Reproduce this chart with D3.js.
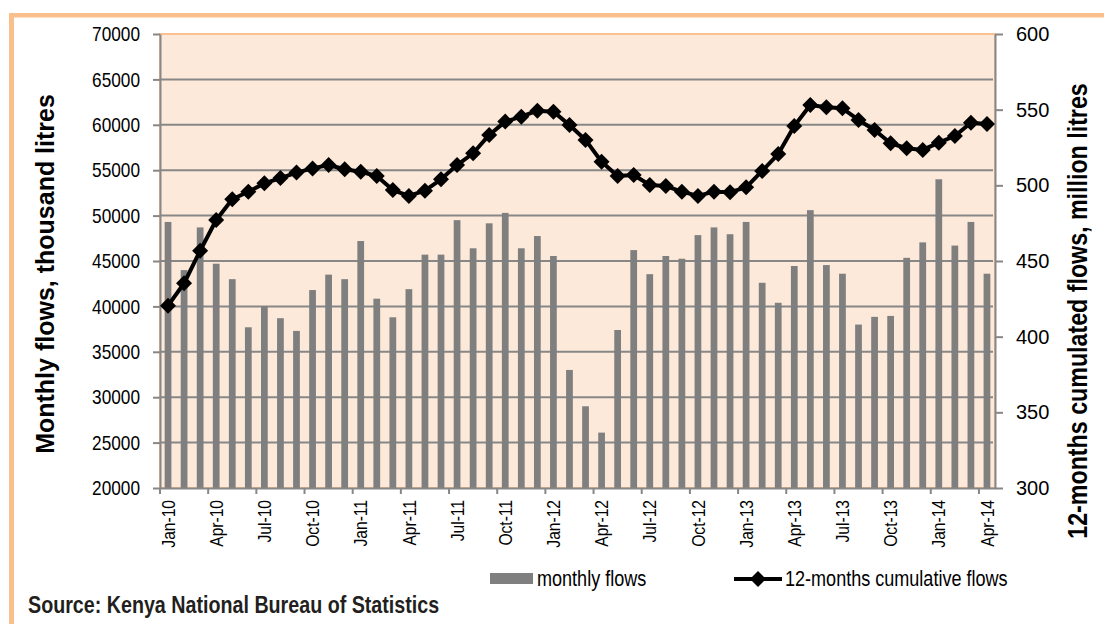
<!DOCTYPE html>
<html>
<head>
<meta charset="utf-8">
<script src="https://cdn.jsdelivr.net/npm/d3@7"></script>
<style>
  body { margin: 0; background: #fff; }
  svg { display: block; font-family: "Liberation Sans", Arial, sans-serif; }
  .axis path, .axis line { stroke: #878787; stroke-width: 2; }
  .grid line { stroke: #878787; stroke-width: 2; }
</style>
</head>
<body>
<div id="chart"></div>
<script>
let months = [
  'Jan-10','Feb-10','Mar-10','Apr-10','May-10','Jun-10','Jul-10','Aug-10','Sep-10','Oct-10','Nov-10','Dec-10',
  'Jan-11','Feb-11','Mar-11','Apr-11','May-11','Jun-11','Jul-11','Aug-11','Sep-11','Oct-11','Nov-11','Dec-11',
  'Jan-12','Feb-12','Mar-12','Apr-12','May-12','Jun-12','Jul-12','Aug-12','Sep-12','Oct-12','Nov-12','Dec-12',
  'Jan-13','Feb-13','Mar-13','Apr-13','May-13','Jun-13','Jul-13','Aug-13','Sep-13','Oct-13','Nov-13','Dec-13',
  'Jan-14','Feb-14','Mar-14','Apr-14'
];

// monthly flows, thousand litres
let monthlyFlows = [
  49300, 44000, 48700, 44700, 43000, 37700, 40000, 38700, 37300, 41800, 43500, 43000,
  47200, 40850, 38800, 41900, 45700, 45700, 49500, 46400, 49150, 50300, 46400, 47750,
  45550, 33000, 29000, 26100, 37400, 46200, 43550, 45550, 45250, 47850, 48700, 47950,
  49300, 42600, 40400, 44450, 50600, 44550, 43600, 38000, 38850, 38950, 45350, 47050,
  54000, 46700, 49300, 43600
];

// 12-months cumulative flows, million litres
let cumulativeFlows = [
  420.5, 435.3, 456.8, 477.1, 490.8, 495.8, 501.3, 504.8, 508.4, 511.2, 513.4, 510.6,
  509.0, 506.2, 496.9, 493.0, 496.5, 504.0, 513.4, 521.2, 533.3, 542.1, 545.4, 549.3,
  548.7, 539.9, 530.0, 515.6, 506.2, 506.8, 500.2, 499.5, 495.8, 493.0, 495.8, 495.5,
  498.7, 509.5, 520.7, 539.2, 553.1, 551.6, 550.9, 543.2, 536.6, 527.8, 524.5, 523.4,
  528.2, 532.6, 541.4, 540.5
];

let leftTicks = [20000, 25000, 30000, 35000, 40000, 45000, 50000, 55000, 60000, 65000, 70000];
let rightTicks = [300, 350, 400, 450, 500, 550, 600];
let tickMonths = ['Jan-10','Apr-10','Jul-10','Oct-10','Jan-11','Apr-11','Jul-11','Oct-11','Jan-12',
  'Apr-12','Jul-12','Oct-12','Jan-13','Apr-13','Jul-13','Oct-13','Jan-14','Apr-14'];

let width = 1104, height = 624;
let plot = {left: 160, right: 995, top: 34, bottom: 488};

// no narrow font installed, so squeeze regular glyphs instead
function condense(sel, k) {
  sel.each(function() {
    let len = this.getComputedTextLength();
    d3.select(this)
      .attr('textLength', len * k)
      .attr('lengthAdjust', 'spacingAndGlyphs');
  });
}

let svg = d3.select('#chart').append('svg')
  .attr('width', width)
  .attr('height', height);

// outer orange frame (top and left only)
svg.append('rect').attr('x', 9).attr('y', 13).attr('width', width - 9).attr('height', 4.5).attr('fill', '#FBBF8D');
svg.append('rect').attr('x', 9).attr('y', 13).attr('width', 5).attr('height', height - 13).attr('fill', '#FBBF8D');

// scales
let x = d3.scaleBand()
  .domain(months)
  .range([plot.left, plot.right])
  .paddingInner(0.58)
  .paddingOuter(0.29);
let step = x.step();
let cx = m => x(m) + x.bandwidth() / 2;

let yLeft = d3.scaleLinear().domain([20000, 70000]).range([plot.bottom, plot.top]);
let yRight = d3.scaleLinear().domain([300, 600]).range([plot.bottom, plot.top]);

// plot area background
svg.append('rect')
  .attr('x', plot.left).attr('y', plot.top)
  .attr('width', plot.right - plot.left).attr('height', plot.bottom - plot.top)
  .attr('fill', '#FDE9D9')
  .attr('stroke', '#F9C18F')
  .attr('stroke-width', 2);

// horizontal grid
svg.append('g')
  .attr('class', 'grid')
  .selectAll('line')
  .data(leftTicks.filter(d => d > 20000 && d < 70000))
  .enter().append('line')
  .attr('x1', plot.left).attr('x2', plot.right - 2)
  .attr('y1', d => yLeft(d)).attr('y2', d => yLeft(d));

// bars
svg.append('g')
  .selectAll('rect')
  .data(monthlyFlows)
  .enter().append('rect')
  .attr('x', (d, i) => x(months[i]))
  .attr('width', x.bandwidth())
  .attr('y', d => yLeft(d))
  .attr('height', d => yLeft(20000) - yLeft(d))
  .attr('fill', '#7F7F7F');

// left axis
let leftAxis = svg.append('g')
  .attr('class', 'axis')
  .attr('transform', 'translate(' + plot.left + ',0)')
  .call(d3.axisLeft(yLeft).tickValues(leftTicks).tickSize(7).tickSizeOuter(0).tickPadding(13).tickFormat(d3.format('d')));
leftAxis.attr('font-family', null);
leftAxis.selectAll('text').attr('font-size', 21).attr('fill', '#000');
condense(leftAxis.selectAll('text'), 0.82);

// right axis
let rightAxis = svg.append('g')
  .attr('class', 'axis')
  .attr('transform', 'translate(' + plot.right + ',0)')
  .call(d3.axisRight(yRight).tickValues(rightTicks).tickSize(8).tickSizeOuter(0).tickPadding(13));
rightAxis.attr('font-family', null);
rightAxis.selectAll('text').attr('font-size', 20).attr('fill', '#000');

// bottom axis: labels at month centres, ticks at month boundaries
let bottomAxis = svg.append('g')
  .attr('class', 'axis')
  .attr('transform', 'translate(0,' + plot.bottom + ')')
  .call(d3.axisBottom(x).tickValues(tickMonths).tickSize(0).tickSizeOuter(0));
bottomAxis.attr('font-family', null);
bottomAxis.selectAll('text')
  .attr('font-size', 19)
  .attr('fill', '#000')
  .attr('transform', 'rotate(-90)')
  .attr('x', -12)
  .attr('y', 0)
  .attr('dy', '0.35em')
  .style('text-anchor', 'end');
condense(bottomAxis.selectAll('text'), 0.82);
bottomAxis.selectAll('.boundary')
  .data(tickMonths)
  .enter().append('line')
  .attr('class', 'boundary')
  .attr('x1', d => cx(d) - step / 2).attr('x2', d => cx(d) - step / 2)
  .attr('y1', 0).attr('y2', 6);

// cumulative line
let line = d3.line()
  .x((d, i) => cx(months[i]))
  .y(d => yRight(d));
svg.append('path')
  .datum(cumulativeFlows)
  .attr('d', line)
  .attr('fill', 'none')
  .attr('stroke', '#000')
  .attr('stroke-width', 4)
  .attr('stroke-linejoin', 'round');

let diamond = d3.symbol().type(d3.symbolSquare).size(128);
svg.append('g')
  .selectAll('path')
  .data(cumulativeFlows)
  .enter().append('path')
  .attr('d', diamond)
  .attr('fill', '#000')
  .attr('transform', (d, i) => 'translate(' + cx(months[i]) + ',' + yRight(d) + ') rotate(45)');

// axis titles
svg.append('text')
  .attr('transform', 'translate(54,274) rotate(-90)')
  .attr('text-anchor', 'middle')
  .attr('font-size', 25)
  .attr('font-weight', 'bold')
  .text('Monthly flows, thousand litres');

let rightTitle = svg.append('text')
  .attr('transform', 'translate(1087,311) rotate(-90)')
  .attr('text-anchor', 'middle')
  .attr('font-size', 27)
  .attr('font-weight', 'bold')
  .text('12-months cumulated flows, million litres');
condense(rightTitle, 0.86);

// legend
let legend = svg.append('g');
legend.append('rect')
  .attr('x', 490).attr('y', 573).attr('width', 43).attr('height', 11)
  .attr('fill', '#7F7F7F');
legend.append('text')
  .attr('x', 537).attr('y', 586)
  .attr('font-size', 22)
  .text('monthly flows');
legend.append('line')
  .attr('x1', 734).attr('x2', 782).attr('y1', 579).attr('y2', 579)
  .attr('stroke', '#000').attr('stroke-width', 4);
legend.append('path')
  .attr('d', diamond)
  .attr('fill', '#000')
  .attr('transform', 'translate(758,579) rotate(45)');
legend.append('text')
  .attr('x', 785).attr('y', 586)
  .attr('font-size', 22)
  .text('12-months cumulative flows');
condense(legend.selectAll('text'), 0.82);

// source note
let source = svg.append('text')
  .attr('x', 28).attr('y', 613)
  .attr('font-size', 24)
  .attr('font-weight', 'bold')
  .attr('fill', '#231F20')
  .text('Source: Kenya National Bureau of Statistics');
condense(source, 0.82);
</script>
</body>
</html>
